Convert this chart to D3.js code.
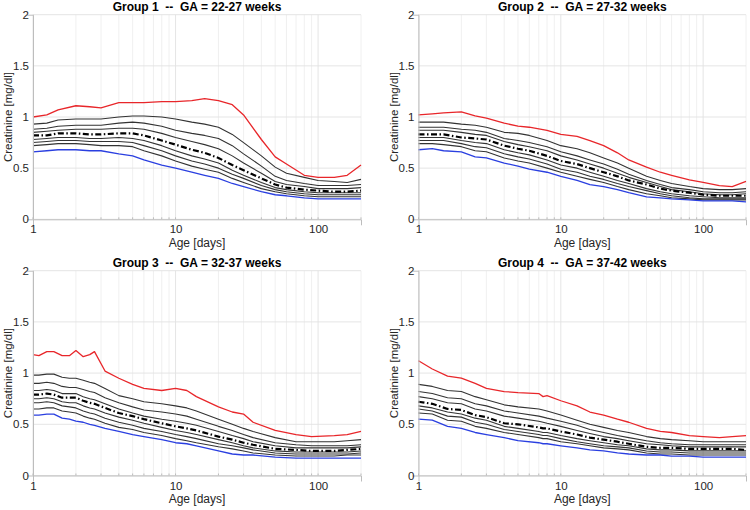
<!DOCTYPE html>
<html><head><meta charset="utf-8">
<script src="https://cdn.jsdelivr.net/npm/d3@7"></script>
<style>
body{margin:0;background:#fff}
svg{display:block}
text{font-family:Arial,"Liberation Sans",Helvetica,sans-serif}
</style>
</head><body>
<svg id="c" width="750" height="510"></svg>
<script>
// ---------- DATA ----------
const xTicks = [1, 10, 100];
const yTicks = [0, 0.5, 1, 1.5, 2];
const yTickLabels = ["0", "0.5", "1", "1.5", "2"];
const titles = [
  "Group 1  --  GA = 22-27 weeks",
  "Group 2  --  GA = 27-32 weeks",
  "Group 3  --  GA = 32-37 weeks",
  "Group 4  --  GA = 37-42 weeks"
];

// Group 1
const ages1 = [1,1.25,1.5,2,2.5,3,4,5,6,8,10,13,16,20,25,30,40,50,60,80,100,130,160,200];
const g1Red  = [1.00,1.02,1.07,1.11,1.10,1.09,1.14,1.14,1.14,1.15,1.15,1.16,1.18,1.16,1.12,1.02,0.78,0.61,0.54,0.43,0.41,0.41,0.43,0.53];
const g1B1   = [0.93,0.94,0.97,0.98,0.98,0.98,1.00,1.01,1.01,1.00,0.98,0.95,0.93,0.90,0.83,0.75,0.62,0.51,0.45,0.41,0.38,0.37,0.36,0.39];
const g1B2   = [0.88,0.89,0.91,0.92,0.92,0.92,0.94,0.95,0.94,0.91,0.87,0.84,0.82,0.79,0.72,0.64,0.52,0.42,0.38,0.35,0.33,0.33,0.33,0.34];
const g1B3   = [0.85,0.86,0.87,0.88,0.88,0.88,0.89,0.89,0.88,0.84,0.80,0.76,0.73,0.69,0.62,0.55,0.45,0.37,0.34,0.32,0.30,0.30,0.30,0.31];
const g1Med  = [0.82,0.82,0.84,0.84,0.83,0.83,0.84,0.84,0.82,0.77,0.73,0.68,0.65,0.60,0.53,0.48,0.40,0.34,0.31,0.29,0.28,0.27,0.27,0.28];
const g1B5   = [0.78,0.79,0.80,0.80,0.79,0.79,0.80,0.79,0.77,0.72,0.67,0.62,0.59,0.55,0.48,0.43,0.36,0.31,0.29,0.27,0.26,0.26,0.26,0.26];
const g1B6   = [0.75,0.76,0.77,0.77,0.76,0.76,0.76,0.75,0.72,0.67,0.62,0.57,0.54,0.50,0.44,0.40,0.33,0.29,0.27,0.25,0.24,0.24,0.24,0.24];
const g1B7   = [0.72,0.73,0.74,0.74,0.73,0.72,0.72,0.71,0.67,0.62,0.57,0.52,0.49,0.46,0.40,0.36,0.30,0.27,0.25,0.23,0.22,0.22,0.22,0.22];
const g1Blue = [0.66,0.67,0.68,0.68,0.67,0.67,0.64,0.62,0.58,0.53,0.50,0.46,0.43,0.40,0.35,0.32,0.27,0.24,0.23,0.21,0.20,0.20,0.20,0.20];

// Group 2
const ages2 = [1,1.25,1.5,2,2.5,3,4,5,6,8,10,13,16,20,25,30,40,50,60,80,100,130,160,200];
const g2Red  = [1.02,1.03,1.04,1.05,1.01,0.99,0.94,0.91,0.90,0.87,0.83,0.81,0.77,0.72,0.65,0.58,0.51,0.46,0.43,0.385,0.36,0.33,0.32,0.37];
const g2B1   = [0.95,0.95,0.95,0.93,0.92,0.90,0.85,0.84,0.82,0.77,0.72,0.69,0.65,0.60,0.55,0.50,0.42,0.38,0.35,0.32,0.30,0.29,0.29,0.30];
const g2B2   = [0.90,0.90,0.90,0.88,0.87,0.85,0.79,0.77,0.75,0.71,0.66,0.62,0.58,0.54,0.49,0.44,0.38,0.34,0.31,0.29,0.27,0.26,0.26,0.27];
const g2B3   = [0.87,0.87,0.87,0.85,0.83,0.82,0.76,0.73,0.71,0.67,0.62,0.58,0.54,0.50,0.45,0.41,0.36,0.32,0.29,0.27,0.25,0.24,0.24,0.25];
const g2Med  = [0.83,0.83,0.83,0.80,0.79,0.78,0.72,0.69,0.67,0.62,0.57,0.54,0.50,0.46,0.42,0.38,0.34,0.30,0.28,0.26,0.24,0.23,0.23,0.23];
const g2B5   = [0.80,0.80,0.80,0.77,0.75,0.74,0.68,0.65,0.63,0.58,0.53,0.50,0.46,0.42,0.38,0.35,0.30,0.27,0.25,0.23,0.22,0.21,0.21,0.21];
const g2B6   = [0.77,0.77,0.77,0.74,0.71,0.70,0.64,0.61,0.59,0.54,0.49,0.46,0.42,0.39,0.35,0.32,0.28,0.25,0.23,0.21,0.20,0.20,0.20,0.20];
const g2B7   = [0.74,0.74,0.73,0.71,0.67,0.66,0.60,0.57,0.55,0.50,0.46,0.42,0.39,0.36,0.32,0.29,0.25,0.23,0.21,0.20,0.19,0.19,0.19,0.19];
const g2Blue = [0.68,0.69,0.67,0.66,0.61,0.60,0.55,0.52,0.49,0.46,0.42,0.38,0.34,0.32,0.29,0.26,0.22,0.21,0.20,0.19,0.18,0.18,0.18,0.17];

// Group 3
const ages3 = [1,1.1,1.25,1.4,1.6,1.8,2,2.25,2.5,2.7,3.2,4,5,6,8,10,12,14,20,25,30,35,50,70,90,130,160,200];
const g3Red  = [1.18,1.17,1.21,1.21,1.17,1.17,1.22,1.16,1.18,1.21,1.02,0.95,0.89,0.85,0.83,0.85,0.83,0.77,0.67,0.62,0.60,0.52,0.44,0.40,0.38,0.39,0.40,0.43];
const g3B1   = [0.98,0.98,0.99,0.99,0.96,0.95,0.95,0.93,0.91,0.90,0.85,0.78,0.75,0.72,0.70,0.68,0.66,0.63,0.55,0.50,0.46,0.43,0.37,0.33,0.33,0.33,0.34,0.35];
const g3B2   = [0.90,0.90,0.91,0.90,0.87,0.86,0.86,0.84,0.82,0.81,0.76,0.71,0.67,0.64,0.62,0.60,0.58,0.55,0.48,0.44,0.40,0.37,0.32,0.30,0.29,0.29,0.29,0.30];
const g3B3   = [0.83,0.83,0.84,0.83,0.80,0.80,0.80,0.77,0.75,0.74,0.70,0.65,0.61,0.58,0.55,0.53,0.51,0.49,0.43,0.39,0.36,0.33,0.29,0.27,0.27,0.27,0.27,0.28];
const g3Med  = [0.79,0.79,0.80,0.79,0.76,0.76,0.76,0.73,0.71,0.70,0.66,0.61,0.58,0.55,0.51,0.48,0.46,0.44,0.38,0.35,0.32,0.30,0.26,0.25,0.24,0.24,0.25,0.26];
const g3B5   = [0.75,0.75,0.76,0.75,0.72,0.71,0.71,0.68,0.66,0.65,0.61,0.57,0.54,0.51,0.47,0.44,0.42,0.40,0.35,0.32,0.29,0.27,0.24,0.23,0.23,0.23,0.23,0.24];
const g3B6   = [0.71,0.71,0.72,0.71,0.68,0.67,0.66,0.63,0.61,0.60,0.56,0.52,0.49,0.46,0.43,0.40,0.38,0.36,0.31,0.29,0.27,0.25,0.22,0.21,0.21,0.21,0.21,0.22];
const g3B7   = [0.65,0.65,0.66,0.66,0.63,0.62,0.61,0.58,0.56,0.55,0.51,0.47,0.45,0.42,0.39,0.36,0.34,0.32,0.28,0.26,0.24,0.22,0.20,0.19,0.19,0.19,0.20,0.20];
const g3Blue = [0.59,0.59,0.60,0.60,0.56,0.55,0.53,0.52,0.50,0.49,0.46,0.43,0.40,0.38,0.35,0.32,0.31,0.29,0.24,0.21,0.20,0.20,0.18,0.17,0.17,0.17,0.17,0.17];

// Group 4
const ages4 = [1,1.25,1.6,2,2.5,3,4,5,7,7.5,8,10,13,16,20,25,30,40,50,60,80,100,130,160,200];
const g4Red  = [1.12,1.04,0.97,0.95,0.90,0.85,0.82,0.81,0.80,0.77,0.78,0.73,0.68,0.62,0.59,0.55,0.52,0.46,0.43,0.42,0.39,0.38,0.37,0.38,0.39];
const g4B1   = [0.89,0.87,0.83,0.82,0.77,0.74,0.69,0.67,0.65,0.64,0.63,0.59,0.54,0.50,0.47,0.44,0.42,0.38,0.36,0.35,0.34,0.33,0.33,0.33,0.33];
const g4B2   = [0.82,0.80,0.76,0.75,0.70,0.68,0.63,0.61,0.58,0.57,0.56,0.53,0.49,0.45,0.42,0.39,0.37,0.34,0.32,0.31,0.30,0.30,0.30,0.30,0.30];
const g4B3   = [0.77,0.75,0.71,0.70,0.65,0.63,0.58,0.56,0.53,0.52,0.51,0.48,0.44,0.41,0.38,0.36,0.34,0.31,0.30,0.29,0.28,0.28,0.28,0.28,0.28];
const g4Med  = [0.72,0.70,0.65,0.64,0.59,0.57,0.51,0.50,0.47,0.46,0.46,0.43,0.40,0.37,0.35,0.33,0.31,0.28,0.27,0.27,0.26,0.26,0.26,0.26,0.25];
const g4B5   = [0.68,0.66,0.62,0.60,0.56,0.54,0.48,0.46,0.43,0.42,0.42,0.39,0.36,0.34,0.32,0.30,0.29,0.26,0.25,0.25,0.24,0.24,0.24,0.24,0.24];
const g4B6   = [0.65,0.63,0.58,0.57,0.52,0.50,0.45,0.43,0.40,0.39,0.39,0.36,0.33,0.31,0.29,0.28,0.27,0.24,0.23,0.23,0.22,0.22,0.22,0.22,0.22];
const g4B7   = [0.61,0.60,0.54,0.53,0.48,0.46,0.42,0.40,0.37,0.36,0.36,0.33,0.31,0.29,0.27,0.26,0.25,0.22,0.21,0.21,0.20,0.20,0.20,0.20,0.20];
const g4Blue = [0.55,0.54,0.48,0.46,0.42,0.40,0.37,0.34,0.32,0.31,0.31,0.29,0.27,0.25,0.24,0.22,0.21,0.20,0.20,0.19,0.19,0.18,0.18,0.18,0.18];

// ---------- LAYOUT ----------
const groups = [
  {ages: ages1, s: [g1Red,g1B1,g1B2,g1B3,g1Med,g1B5,g1B6,g1B7,g1Blue], L: 33,  T: 14.7, R: 361, B: 219.3},
  {ages: ages2, s: [g2Red,g2B1,g2B2,g2B3,g2Med,g2B5,g2B6,g2B7,g2Blue], L: 418.5, T: 14.7, R: 746, B: 219.3},
  {ages: ages3, s: [g3Red,g3B1,g3B2,g3B3,g3Med,g3B5,g3B6,g3B7,g3Blue], L: 33,  T: 270.7, R: 361, B: 475.5},
  {ages: ages4, s: [g4Red,g4B1,g4B2,g4B3,g4Med,g4B5,g4B6,g4B7,g4Blue], L: 418.5, T: 270.7, R: 746, B: 475.5}
];
const styles = [
  {c:"#e8262a", w:1.3},
  {c:"#333", w:1.1},{c:"#333", w:1.1},{c:"#333", w:1.1},
  {c:"#000", w:2.2, dash:"6,2.5,1.5,2.5"},
  {c:"#333", w:1.1},{c:"#333", w:1.1},{c:"#333", w:1.1},
  {c:"#2a3fe0", w:1.3}
];

const svg = d3.select("#c");
const minor = [];
[1,10,100].forEach(d => { for (let k=2;k<=9;k++){ const v=d*k; if (v<=200) minor.push(v);} });

groups.forEach((g, i) => {
  const x = d3.scaleLog().domain([1,200]).range([g.L, g.R]);
  const y = d3.scaleLinear().domain([0,2]).range([g.B, g.T]);
  const G = svg.append("g");

  // grid
  G.selectAll(".gmin").data(minor).join("line")
    .attr("x1", d=>x(d)).attr("x2", d=>x(d)).attr("y1", g.T).attr("y2", g.B)
    .attr("stroke", "#ececec").attr("stroke-width", 0.8);
  G.selectAll(".gmaj").data(xTicks).join("line")
    .attr("x1", d=>x(d)).attr("x2", d=>x(d)).attr("y1", g.T).attr("y2", g.B)
    .attr("stroke", "#e2e2e2").attr("stroke-width", 0.9);
  G.selectAll(".gy").data(yTicks).join("line")
    .attr("x1", g.L).attr("x2", g.R).attr("y1", d=>y(d)).attr("y2", d=>y(d))
    .attr("stroke", "#e2e2e2").attr("stroke-width", 0.9);

  // series
  const line = d3.line().x(d=>x(d[0])).y(d=>y(d[1]));
  const order = [1,2,3,5,6,7,0,8,4];
  order.forEach(k => {
    const st = styles[k];
    const pts = g.ages.map((a, j) => [a, g.s[k][j]]);
    G.append("path").datum(pts).attr("d", line)
      .attr("fill","none").attr("stroke", st.c).attr("stroke-width", st.w)
      .attr("stroke-linejoin","round")
      .attr("stroke-dasharray", st.dash || null);
  });

  // axes
  const xAxis = d3.axisBottom(x).tickValues(xTicks).tickFormat(d3.format("d")).tickSizeInner(0).tickPadding(6);
  const ax = G.append("g").attr("transform", `translate(0,${g.B})`).call(xAxis);
  ax.select(".domain").attr("stroke", "#bdbdbd");
  ax.selectAll("text").attr("font-size", 11.5).attr("fill", "#262626");
  G.selectAll(".xt").data(minor.concat(xTicks)).join("line")
    .attr("x1", d=>x(d)).attr("x2", d=>x(d)).attr("y1", g.B).attr("y2", g.B-2)
    .attr("stroke", "#bdbdbd");

  const yAxis = d3.axisLeft(y).tickValues(yTicks).tickFormat((d,j)=>yTickLabels[j]).tickSizeInner(0).tickPadding(4);
  const ay = G.append("g").attr("transform", `translate(${g.L},0)`).call(yAxis);
  ay.select(".domain").attr("stroke", "#bdbdbd");
  ay.selectAll("text").attr("font-size", 11.5).attr("fill", "#262626");

  // labels
  G.append("text").attr("x", (g.L+g.R)/2).attr("y", g.B + 27.5)
    .attr("text-anchor","middle").attr("font-size", 12).attr("fill","#262626").text("Age [days]");
  G.append("text").attr("transform", `translate(${g.L-21},${(g.T+g.B)/2}) rotate(-90)`)
    .attr("text-anchor","middle").attr("font-size", 11.5).attr("fill","#262626").text("Creatinine [mg/dl]");
  G.append("text").attr("x", (g.L+g.R)/2).attr("y", g.T - 3.5)
    .attr("text-anchor","middle").attr("font-size", 12).attr("font-weight","bold").attr("fill","#000")
    .style("white-space","pre").attr("xml:space","preserve").text(titles[i]);
});
</script>
</body></html>
